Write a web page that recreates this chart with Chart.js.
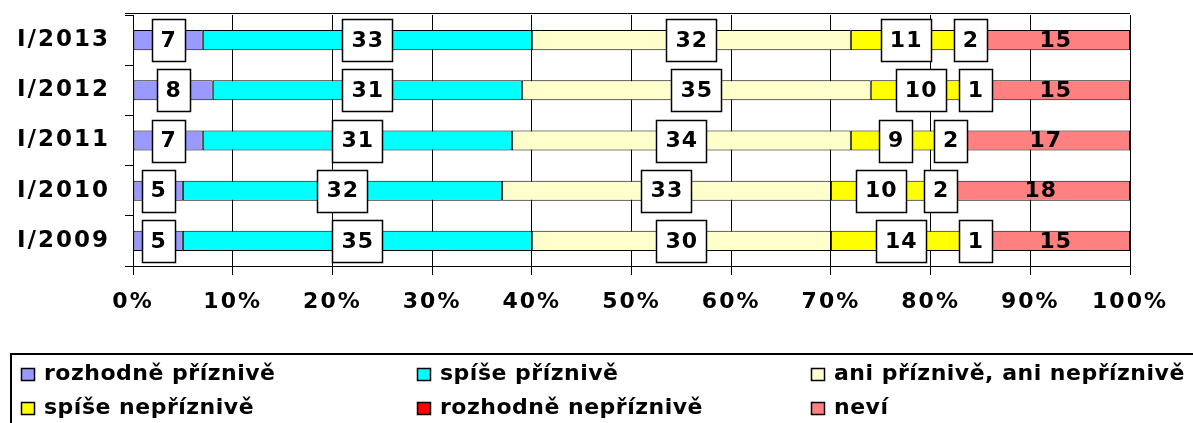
<!DOCTYPE html>
<html>
<head>
<meta charset="utf-8">
<script src="https://cdn.jsdelivr.net/npm/chart.js@4"></script>
<style>
  body { margin: 0; background: #fff; }
  #c { display: block; }
</style>
</head>
<body>
<canvas id="c" width="1193" height="423"></canvas>
<script>
// categories (top to bottom as shown)
const years = ["I/2013", "I/2012", "I/2011", "I/2010", "I/2009"];

// series values in %
const rozhodnePriznive = [7, 8, 7, 5, 5];
const spisePriznive = [33, 31, 31, 32, 35];
const aniAni = [32, 35, 34, 33, 30];
const spiseNepriznive = [11, 10, 9, 10, 14];
const rozhodneNepriznive = [2, 1, 2, 2, 1];
const nevi = [15, 15, 17, 18, 15];

const seriesNames = [
  "rozhodně příznivě",
  "spíše příznivě",
  "ani příznivě, ani nepříznivě",
  "spíše nepříznivě",
  "rozhodně nepříznivě",
  "neví",
];
const seriesColors = ["#9999FF", "#00FFFF", "#FFFFCC", "#FFFF00", "#FF0000", "#FF8080"];
const seriesData = [rozhodnePriznive, spisePriznive, aniAni, spiseNepriznive, rozhodneNepriznive, nevi];

const FONT = "'DejaVu Sans', Verdana, sans-serif";

// wider letters for the axis texts (original font is Verdana)
const spacing = {
  id: "spacing",
  beforeDraw(chart) {
    chart.ctx.letterSpacing = "2px";
  },
};

// white boxed value labels (last series has no box)
const boxLabels = {
  id: "boxLabels",
  afterDatasetsDraw(chart) {
    const ctx = chart.ctx;
    ctx.save();
    ctx.letterSpacing = "1px";
    ctx.font = "bold 22px " + FONT;
    ctx.textAlign = "center";
    ctx.textBaseline = "middle";
    chart.data.datasets.forEach((ds, di) => {
      const meta = chart.getDatasetMeta(di);
      meta.data.forEach((bar, i) => {
        const txt = String(ds.data[i]);
        const cx = (bar.x + bar.base) / 2;
        const cy = bar.y;
        if (di < 5) {
          const w = Math.round(ctx.measureText(txt).width + 17);
          const h = 42;
          const bx = Math.round(cx - w / 2) + 0.5;
          const by = Math.round(cy - h / 2) + 0.5;
          ctx.fillStyle = "#fff";
          ctx.fillRect(bx, by, w, h);
          ctx.strokeStyle = "#000";
          ctx.lineWidth = 1.5;
          ctx.strokeRect(bx, by, w, h);
        }
        ctx.fillStyle = "#000";
        ctx.fillText(txt, cx + 0.5, cy + 1);
      });
    });
    ctx.restore();
  },
};

// top border of the plot and the legend box
const frameAndLegend = {
  id: "frameAndLegend",
  afterDraw(chart) {
    const ctx = chart.ctx;
    const a = chart.chartArea;
    ctx.save();
    ctx.strokeStyle = "#000";
    ctx.lineWidth = 1;
    ctx.beginPath();
    ctx.moveTo(a.left - 8, 13.5);
    ctx.lineTo(a.right, 13.5);
    ctx.stroke();

    // legend
    ctx.lineWidth = 2;
    ctx.strokeRect(11, 354, 1200, 120);
    ctx.letterSpacing = "0.5px";
    ctx.font = "bold 22px " + FONT;
    ctx.textBaseline = "middle";
    ctx.textAlign = "left";
    const colX = [21, 417, 811];
    const rowY = [374, 408];
    seriesNames.forEach((name, i) => {
      const x = colX[i % 3];
      const y = rowY[Math.floor(i / 3)];
      ctx.fillStyle = seriesColors[i];
      ctx.fillRect(x + 0.5, y - 5.5, 13, 12);
      ctx.lineWidth = 1.5;
      ctx.strokeStyle = "#000";
      ctx.strokeRect(x + 0.5, y - 5.5, 13, 12);
      ctx.fillStyle = "#000";
      ctx.fillText(name, x + 23, y);
    });
    ctx.restore();
  },
};

new Chart(document.getElementById("c"), {
  type: "bar",
  data: {
    labels: years,
    datasets: seriesData.map((d, i) => ({
      label: seriesNames[i],
      data: d,
      backgroundColor: seriesColors[i],
      borderColor: "#000",
      borderWidth: 1,
      borderSkipped: false,
      barPercentage: 0.4,
      categoryPercentage: 1,
    })),
  },
  options: {
    indexAxis: "y",
    responsive: false,
    animation: false,
    layout: { padding: { top: 15, right: 63, left: 0, bottom: 0 } },
    plugins: { legend: { display: false }, tooltip: { enabled: false } },
    scales: {
      x: {
        stacked: true,
        min: 0,
        max: 100,
        afterFit: (s) => { s.height = 157; },
        grid: { color: "#000", lineWidth: 1, tickLength: 9, tickColor: "#000" },
        border: { color: "#000", width: 1 },
        ticks: {
          stepSize: 10,
          padding: 14,
          color: "#000",
          font: { family: FONT, size: 22, weight: "bold" },
          callback: (v) => v + "%",
        },
      },
      y: {
        stacked: true,
        afterFit: (s) => {
          s.width = 133;
          s.paddingTop = 0;
          s.paddingBottom = 0;
        },
        grid: { drawOnChartArea: false, color: "#000", tickLength: 8, offset: true },
        border: { color: "#000", width: 1 },
        ticks: {
          padding: 15,
          color: "#000",
          font: { family: FONT, size: 23, weight: "bold" },
        },
      },
    },
  },
  plugins: [spacing, boxLabels, frameAndLegend],
});
</script>
</body>
</html>
